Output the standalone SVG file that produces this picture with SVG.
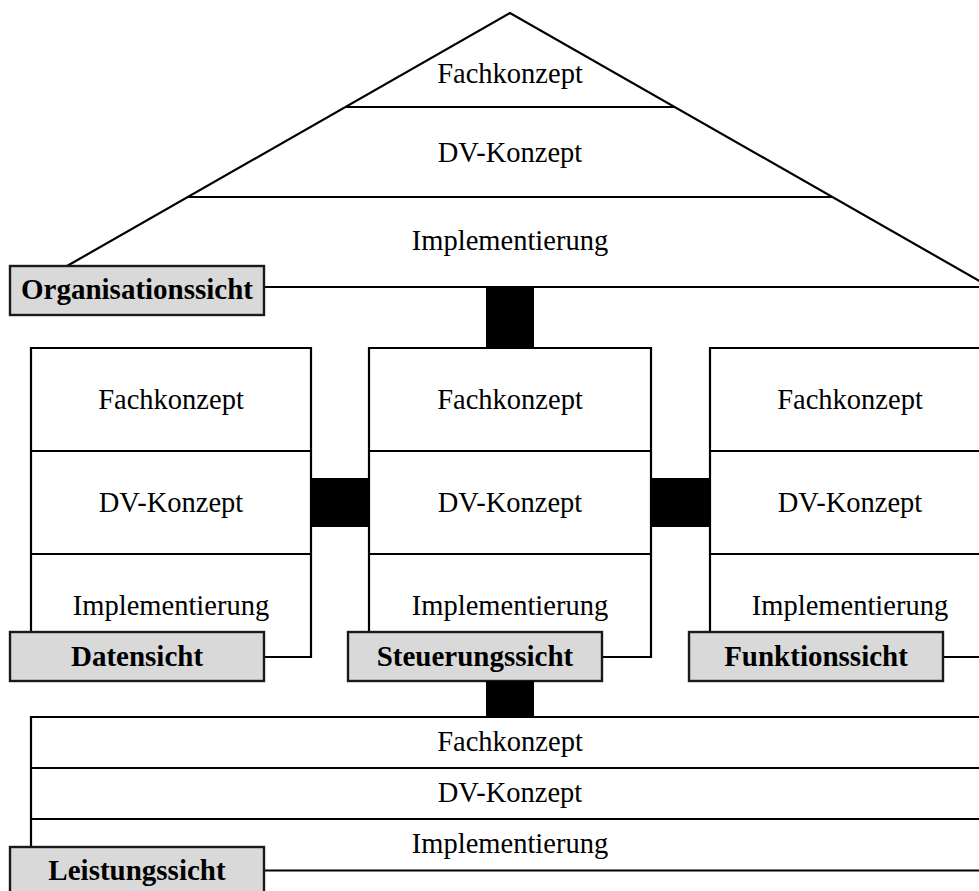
<svg xmlns="http://www.w3.org/2000/svg" width="979" height="891" viewBox="0 0 979 891">
  <style>
    .ln { fill: none; stroke: #000; stroke-width: 2.2; stroke-linejoin: miter; }
    .lbl { fill: #d9d9d9; stroke: #1a1a1a; stroke-width: 2.4; }
    .lt { font-family: "Liberation Serif", "Times New Roman", serif; font-size: 29px; font-weight: bold; text-anchor: middle; fill: #000; }
    .tx { font-family: "Liberation Serif", "Times New Roman", serif; font-size: 28.5px; text-anchor: middle; fill: #000; }
    .bar { fill: #000; }
  </style>
  <rect x="0" y="0" width="979" height="891" fill="#fff"/>

  <!-- Organisation view: the roof -->
  <g id="organisationssicht">
    <path class="ln" d="M67,266 L510,13 L990,287"/>
    <line class="ln" x1="345.5" y1="107" x2="674.5" y2="107"/>
    <line class="ln" x1="188" y1="197" x2="832" y2="197"/>
    <line class="ln" x1="264" y1="287" x2="995" y2="287"/>
    <text class="tx" x="510" y="83">Fachkonzept</text>
    <text class="tx" x="510" y="162">DV-Konzept</text>
    <text class="tx" x="510" y="250">Implementierung</text>
    <rect class="lbl" x="10" y="266" width="254" height="49"/>
    <text class="lt" x="137" y="299">Organisationssicht</text>
  </g>

  <!-- Data view -->
  <g id="datensicht">
    <path class="ln" d="M264,657 H311 V348 H31 V632"/>
    <line class="ln" x1="31" y1="451" x2="311" y2="451"/>
    <line class="ln" x1="31" y1="554" x2="311" y2="554"/>
    <text class="tx" x="171" y="409">Fachkonzept</text>
    <text class="tx" x="171" y="512">DV-Konzept</text>
    <text class="tx" x="171" y="615">Implementierung</text>
    <rect class="lbl" x="10" y="632" width="254" height="49"/>
    <text class="lt" x="137" y="665.5">Datensicht</text>
  </g>

  <!-- Control view -->
  <g id="steuerungssicht">
    <path class="ln" d="M602,657 H651 V348 H369 V632"/>
    <line class="ln" x1="369" y1="451" x2="651" y2="451"/>
    <line class="ln" x1="369" y1="554" x2="651" y2="554"/>
    <text class="tx" x="510" y="409">Fachkonzept</text>
    <text class="tx" x="510" y="512">DV-Konzept</text>
    <text class="tx" x="510" y="615">Implementierung</text>
    <rect class="lbl" x="348" y="632" width="254" height="49"/>
    <text class="lt" x="475" y="665.5">Steuerungssicht</text>
  </g>

  <!-- Function view -->
  <g id="funktionssicht">
    <path class="ln" d="M943,657 H990 V348 H710 V632"/>
    <line class="ln" x1="710" y1="451" x2="995" y2="451"/>
    <line class="ln" x1="710" y1="554" x2="995" y2="554"/>
    <text class="tx" x="850" y="409">Fachkonzept</text>
    <text class="tx" x="850" y="512">DV-Konzept</text>
    <text class="tx" x="850" y="615">Implementierung</text>
    <rect class="lbl" x="689" y="632" width="254" height="49"/>
    <text class="lt" x="816" y="665.5">Funktionssicht</text>
  </g>

  <!-- Output view: the base -->
  <g id="leistungssicht">
    <path class="ln" d="M31,847 V717 H995"/>
    <line class="ln" x1="31" y1="768" x2="995" y2="768"/>
    <line class="ln" x1="31" y1="819" x2="995" y2="819"/>
    <line class="ln" x1="264" y1="870.5" x2="995" y2="870.5"/>
    <text class="tx" x="510" y="751">Fachkonzept</text>
    <text class="tx" x="510" y="802">DV-Konzept</text>
    <text class="tx" x="510" y="853">Implementierung</text>
    <rect class="lbl" x="10" y="847" width="254" height="50"/>
    <text class="lt" x="137" y="879.5">Leistungssicht</text>
  </g>

  <!-- Connectors between the views -->
  <g id="connectors">
    <rect class="bar" x="486" y="287" width="48" height="61"/>
    <rect class="bar" x="311" y="478" width="58" height="49"/>
    <rect class="bar" x="651" y="478" width="59" height="49"/>
    <rect class="bar" x="486" y="681" width="48" height="36"/>
  </g>
</svg>
